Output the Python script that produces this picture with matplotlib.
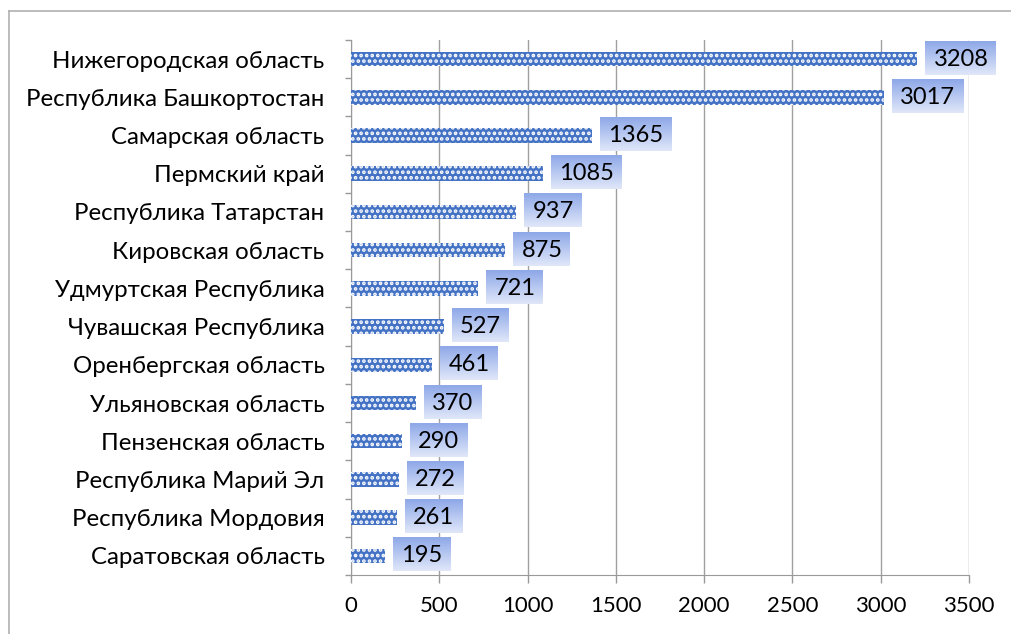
import numpy as np
import matplotlib
matplotlib.use("Agg")
import matplotlib.pyplot as plt
from matplotlib.lines import Line2D
from matplotlib.colors import LinearSegmentedColormap

regions = ["Нижегородская область", "Республика Башкортостан", "Самарская область",
           "Пермский край", "Республика Татарстан", "Кировская область",
           "Удмуртская Республика", "Чувашская Республика", "Оренбергская область",
           "Ульяновская область", "Пензенская область", "Республика Марий Эл",
           "Республика Мордовия", "Саратовская область"]
values = [3208, 3017, 1365, 1085, 937, 875, 721, 527, 461, 370, 290, 272, 261, 195]
xticks = [0, 500, 1000, 1500, 2000, 2500, 3000, 3500]

plt.rcParams['font.family'] = ['Lato', 'DejaVu Sans']
plt.rcParams['hatch.linewidth'] = 1.8

fig = plt.figure(figsize=(10.12, 6.34), dpi=100)
ax = fig.add_axes([0.3468, 0.0931, 0.9575 - 0.3468, 0.9369 - 0.0931])

y = np.arange(len(regions))
ax.barh(y, values, height=0.38, color='#4472C4', edgecolor='white', linewidth=0,
        hatch='...', zorder=3)

ax.set_xlim(0, 3500)
ax.set_ylim(len(regions) - 0.5, -0.5)
ax.set_xticks(xticks)
ax.set_yticks(y)
ax.set_yticklabels(regions)
ax.set_yticks(np.arange(len(regions) + 1) - 0.5, minor=True)
ax.tick_params(axis='y', which='major', length=0, pad=19, labelsize=17.3)
ax.tick_params(axis='y', which='minor', length=4, color='#999999', width=1)
ax.tick_params(axis='x', length=6, color='#999999', width=1, pad=9, labelsize=16)
ax.xaxis.grid(True, color='#A0A0A0', linewidth=1, zorder=0)
ax.set_axisbelow(True)
for s in ['top', 'right']:
    ax.spines[s].set_visible(False)
ax.spines['left'].set_color('#999999')
ax.spines['bottom'].set_color('#999999')

# data labels
texts = []
for i, v in enumerate(values):
    t = ax.annotate(str(v), (v, i), xytext=(16, 0), textcoords='offset pixels',
                    ha='left', va='center', fontsize=17, color='black', zorder=10 + 2 * i + 1,
                    annotation_clip=False)
    texts.append(t)

# gradient boxes behind the labels
fig.canvas.draw()
cmap = LinearSegmentedColormap.from_list('g', ['#8EA8E8', '#E0E7F9'])
grad = np.linspace(0, 1, 64).reshape(-1, 1)
inv = ax.transData.inverted()
r = fig.canvas.get_renderer()
for i, t in enumerate(texts):
    bb = t.get_window_extent(r)
    (x0, ytop), (x1, ybot) = inv.transform([[bb.x0 - 8, bb.y1 + 8], [bb.x1 + 8, bb.y0 - 5]])
    im = ax.imshow(grad, cmap=cmap, extent=(x0, x1, ybot, ytop), origin='upper',
                   aspect='auto', zorder=10 + 2 * i)
    im.set_clip_on(False)
ax.set_xlim(0, 3500)
ax.set_ylim(len(regions) - 0.5, -0.5)

# outer chart frame (top and left visible)
fig.add_artist(Line2D([0.0089, 1.0], [0.9826, 0.9826], color='#B0B0B0', linewidth=1.2))
fig.add_artist(Line2D([0.0089, 0.0089], [0.0, 0.9826], color='#B0B0B0', linewidth=1.2))

fig.savefig('out.png', dpi=100)
